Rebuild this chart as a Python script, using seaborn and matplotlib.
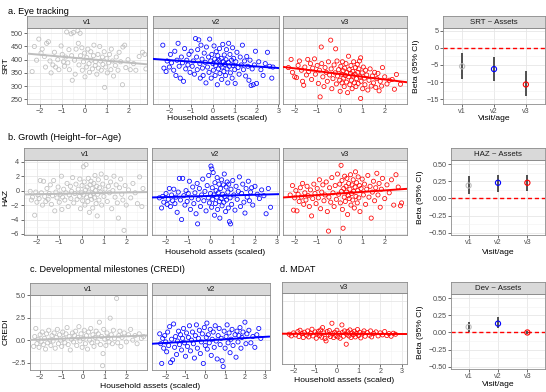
import pandas as pd
import matplotlib
matplotlib.use("Agg")
import matplotlib.pyplot as plt
import seaborn as sns
from matplotlib.ticker import MultipleLocator, AutoMinorLocator, FuncFormatter

# ---------------- data ----------------
visits = ["v1", "v2", "v3"]
visit_colors = {"v1": "#BEBEBE", "v2": "blue", "v3": "red"}

# a. Eye tracking : (household assets, SRT)
srt_v1 = [(-2.35, 355), (-2.25, 450), (-2.15, 398), (-2.05, 478), (-1.95, 425), (-1.9, 440), (-1.8, 412),
          (-1.75, 372), (-1.7, 462), (-1.62, 468), (-1.55, 395), (-1.5, 350), (-1.42, 380), (-1.35, 428),
          (-1.3, 372), (-1.2, 400), (-1.15, 362), (-1.05, 452), (-1.0, 420), (-0.95, 392), (-0.9, 375),
          (-0.85, 410), (-0.8, 505), (-0.75, 388), (-0.7, 438), (-0.68, 362), (-0.6, 498), (-0.58, 415),
          (-0.55, 322), (-0.5, 503), (-0.45, 398), (-0.42, 345), (-0.38, 440), (-0.3, 510), (-0.28, 462),
          (-0.25, 380), (-0.2, 500), (-0.18, 415), (-0.12, 445), (-0.1, 360), (-0.05, 392), (0.0, 425),
          (0.02, 335), (0.08, 372), (0.1, 408), (0.15, 440), (0.2, 385), (0.22, 352), (0.28, 430),
          (0.3, 398), (0.35, 365), (0.4, 415), (0.42, 455), (0.48, 378), (0.5, 392), (0.55, 345),
          (0.6, 420), (0.62, 368), (0.68, 450), (0.72, 395), (0.75, 360), (0.8, 410), (0.82, 382),
          (0.88, 430), (0.9, 295), (0.95, 372), (1.0, 405), (1.02, 350), (1.08, 388), (1.12, 420),
          (1.18, 362), (1.2, 440), (1.25, 395), (1.3, 338), (1.38, 378), (1.42, 410), (1.5, 360),
          (1.55, 428), (1.62, 392), (1.7, 305), (1.72, 448), (1.8, 455), (1.85, 370), (1.95, 400),
          (2.05, 362), (2.2, 385), (2.3, 360), (2.45, 412), (2.6, 428), (2.7, 420), (2.75, 365)]
srt_v2 = [(-2.3, 455), (-2.25, 368), (-2.15, 355), (-2.1, 395), (-2.0, 372), (-1.95, 420), (-1.9, 388),
          (-1.8, 360), (-1.75, 432), (-1.7, 340), (-1.65, 398), (-1.6, 462), (-1.55, 375), (-1.5, 330),
          (-1.45, 410), (-1.4, 388), (-1.35, 318), (-1.3, 442), (-1.25, 365), (-1.2, 398), (-1.15, 380),
          (-1.1, 420), (-1.05, 352), (-1.0, 432), (-0.95, 375), (-0.9, 395), (-0.85, 345), (-0.8, 480),
          (-0.75, 410), (-0.72, 362), (-0.7, 438), (-0.65, 475), (-0.6, 385), (-0.58, 330), (-0.55, 455),
          (-0.5, 402), (-0.48, 368), (-0.45, 340), (-0.4, 425), (-0.35, 390), (-0.32, 312), (-0.3, 448),
          (-0.25, 372), (-0.2, 410), (-0.18, 352), (-0.15, 478), (-0.1, 395), (-0.08, 330), (-0.05, 420),
          (0.0, 385), (0.02, 360), (0.05, 452), (0.08, 402), (0.1, 340), (0.12, 378), (0.15, 430),
          (0.18, 392), (0.2, 305), (0.22, 415), (0.25, 365), (0.28, 398), (0.3, 442), (0.32, 348),
          (0.35, 380), (0.38, 405), (0.4, 325), (0.42, 372), (0.45, 458), (0.48, 392), (0.5, 355),
          (0.52, 418), (0.55, 382), (0.58, 340), (0.6, 400), (0.62, 438), (0.65, 365), (0.68, 312),
          (0.7, 390), (0.72, 462), (0.75, 375), (0.78, 420), (0.8, 350), (0.85, 398), (0.88, 330),
          (0.9, 445), (0.92, 378), (0.95, 405), (1.0, 362), (1.02, 310), (1.05, 392), (1.1, 428),
          (1.15, 370), (1.2, 345), (1.25, 410), (1.3, 380), (1.35, 455), (1.4, 362), (1.45, 395),
          (1.5, 338), (1.55, 412), (1.6, 375), (1.65, 322), (1.7, 398), (1.75, 302), (1.8, 365),
          (1.85, 305), (1.9, 380), (1.95, 432), (2.0, 310), (2.1, 392), (2.2, 362), (2.3, 340),
          (2.4, 385), (2.5, 428), (2.6, 375), (2.7, 330), (2.75, 372)]
srt_v3 = [(-2.28, 370), (-2.16, 401), (-2.1, 352), (-2.0, 335), (-1.92, 332), (-1.85, 378), (-1.79, 395),
          (-1.7, 360), (-1.65, 318), (-1.6, 303), (-1.55, 372), (-1.48, 342), (-1.42, 401), (-1.38, 355),
          (-1.3, 385), (-1.25, 325), (-1.2, 368), (-1.12, 403), (-1.08, 345), (-1.0, 378), (-0.95, 310),
          (-0.9, 360), (-0.87, 259), (-0.82, 448), (-0.8, 385), (-0.75, 335), (-0.7, 298), (-0.65, 370),
          (-0.6, 352), (-0.55, 318), (-0.5, 392), (-0.45, 342), (-0.4, 474), (-0.38, 365), (-0.35, 290),
          (-0.3, 328), (-0.25, 380), (-0.2, 350), (-0.18, 441), (-0.15, 308), (-0.12, 395), (-0.1, 338),
          (-0.05, 362), (0.0, 322), (0.02, 280), (0.05, 375), (0.08, 345), (0.1, 312), (0.12, 392),
          (0.15, 358), (0.18, 330), (0.2, 298), (0.22, 368), (0.25, 340), (0.28, 385), (0.3, 315),
          (0.32, 352), (0.35, 275), (0.39, 413), (0.4, 335), (0.42, 362), (0.45, 305), (0.48, 348),
          (0.5, 378), (0.52, 322), (0.55, 290), (0.58, 355), (0.6, 338), (0.62, 392), (0.65, 312),
          (0.68, 345), (0.7, 370), (0.72, 298), (0.75, 328), (0.78, 382), (0.8, 352), (0.82, 310),
          (0.85, 365), (0.88, 395), (0.9, 335), (0.93, 407), (0.93, 253), (0.95, 318), (1.0, 350),
          (1.02, 290), (1.05, 372), (1.1, 330), (1.12, 305), (1.15, 360), (1.2, 342), (1.25, 285),
          (1.3, 322), (1.35, 365), (1.4, 300), (1.45, 338), (1.5, 312), (1.55, 352), (1.6, 295),
          (1.65, 328), (1.7, 348), (1.75, 282), (1.8, 318), (1.86, 300), (1.9, 370), (2.0, 335),
          (2.1, 308), (2.2, 322), (2.33, 325), (2.43, 288), (2.52, 344), (2.7, 307)]

# b. Growth : (household assets, HAZ)
haz_v1 = [(-2.3, -0.1), (-2.25, -1.3), (-2.2, -0.9), (-2.1, -3.4), (-2.05, -0.2), (-2.0, -1.6), (-1.95, -0.6),
          (-1.9, -1.1), (-1.85, 1.4), (-1.8, -0.3), (-1.75, -2.0), (-1.7, 1.3), (-1.65, -0.8), (-1.6, -1.5),
          (-1.55, 0.3), (-1.5, -1.2), (-1.45, -0.4), (-1.4, 0.8), (-1.35, -1.9), (-1.3, -0.7), (-1.25, 1.4),
          (-1.2, -2.8), (-1.15, -0.2), (-1.1, -1.0), (-1.05, 0.5), (-1.0, -1.6), (-0.95, -0.5), (-0.9, 2.0),
          (-0.88, -2.6), (-0.85, -0.9), (-0.8, 0.2), (-0.75, -1.3), (-0.7, -0.3), (-0.65, 1.0), (-0.6, -2.2),
          (-0.55, -0.6), (-0.5, 0.6), (-0.48, -1.1), (-0.45, -0.1), (-0.4, 1.8), (-0.35, -1.7), (-0.3, -0.4),
          (-0.25, 0.9), (-0.2, -1.2), (-0.15, 0.2), (-0.1, -0.8), (-0.08, 1.6), (-0.05, -2.5), (0.0, -0.3),
          (0.02, 0.7), (0.05, -1.4), (0.08, 3.3), (0.1, -0.6), (0.12, 1.2), (0.15, -2.0), (0.18, 0.1),
          (0.2, 3.6), (0.22, -0.9), (0.25, 0.5), (0.28, -1.5), (0.3, 1.7), (0.32, -0.2), (0.35, -3.0),
          (0.38, 0.8), (0.4, -0.7), (0.42, 1.3), (0.45, -1.2), (0.48, 0.3), (0.5, -2.4), (0.52, -0.4),
          (0.55, 1.0), (0.58, -1.0), (0.6, 2.1), (0.62, 0.0), (0.65, -1.8), (0.68, 0.6), (0.7, -3.5),
          (0.72, -0.5), (0.75, 1.5), (0.78, -1.3), (0.8, 0.4), (0.85, -0.2), (0.88, 2.3), (0.9, -2.0),
          (0.95, 0.9), (1.0, -0.8), (1.05, 0.2), (1.1, 1.8), (1.15, -1.5), (1.2, 0.6), (1.25, -0.3),
          (1.3, 1.2), (1.35, -2.5), (1.4, 0.0), (1.45, 2.0), (1.5, -0.9), (1.55, 0.8), (1.6, -1.7),
          (1.65, -3.8), (1.7, 0.4), (1.75, 1.6), (1.8, -0.5), (1.85, -1.3), (1.9, -5.5), (1.95, 0.7),
          (2.0, -2.0), (2.1, 0.1), (2.2, -1.0), (2.3, 1.0), (2.4, -0.3), (2.5, -1.8), (2.6, 1.9),
          (2.7, -2.2), (2.75, 0.3)]
haz_v2 = [(-2.3, -1.0), (-2.2, -2.4), (-2.15, -0.8), (-2.1, -1.6), (-2.0, -0.4), (-1.95, -1.9), (-1.9, -1.2),
          (-1.85, 0.3), (-1.8, -2.2), (-1.75, -0.6), (-1.7, -1.4), (-1.65, 0.2), (-1.6, -1.8), (-1.55, -0.9),
          (-1.5, -3.0), (-1.45, -0.2), (-1.4, 1.7), (-1.35, -1.3), (-1.3, -4.0), (-1.25, 1.7), (-1.2, -0.7),
          (-1.15, -2.0), (-1.1, 0.0), (-1.05, -1.5), (-1.0, -0.4), (-0.95, 1.3), (-0.9, -2.6), (-0.85, -1.0),
          (-0.8, 0.5), (-0.75, -1.8), (-0.7, -0.3), (-0.65, -3.2), (-0.6, 1.0), (-0.58, -4.6), (-0.55, -1.2),
          (-0.5, 0.3), (-0.45, -2.2), (-0.4, -0.6), (-0.35, 1.6), (-0.3, -1.4), (-0.25, -0.1), (-0.2, -2.8),
          (-0.15, 0.7), (-0.1, -1.0), (-0.08, 2.1), (-0.05, -1.7), (0.0, -0.4), (0.02, 3.4), (0.05, -2.3),
          (0.06, 3.0), (0.08, 0.4), (0.1, -1.2), (0.12, 2.5), (0.15, -0.6), (0.18, -3.4), (0.2, 1.1),
          (0.22, -1.8), (0.25, 0.0), (0.28, -0.9), (0.3, 1.8), (0.32, -2.6), (0.35, -0.3), (0.38, 0.9),
          (0.4, -1.5), (0.42, -3.8), (0.45, 0.3), (0.48, -1.1), (0.5, 1.5), (0.52, -2.1), (0.55, -0.5),
          (0.58, 0.8), (0.6, -1.6), (0.62, 2.3), (0.65, -0.8), (0.68, -2.9), (0.7, 0.5), (0.72, -1.3),
          (0.75, 1.2), (0.78, -0.2), (0.8, -2.4), (0.82, 0.9), (0.85, -4.3), (0.88, -1.0), (0.9, -4.6),
          (0.92, 0.2), (0.95, -1.9), (1.0, 1.4), (1.05, -0.6), (1.1, -2.7), (1.15, 0.6), (1.2, -1.2),
          (1.25, -0.1), (1.3, 1.9), (1.35, -2.2), (1.4, -0.4), (1.45, 0.9), (1.5, -1.6), (1.55, -3.1),
          (1.6, 0.3), (1.65, -0.9), (1.7, 1.3), (1.75, -1.4), (1.8, -0.2), (1.85, 0.4), (1.9, -2.0),
          (2.0, 0.6), (2.1, -0.5), (2.2, -1.1), (2.3, 0.1), (2.4, -0.7), (2.5, -3.2), (2.6, 0.3), (2.7, -2.3)]
haz_v3 = [(-2.2, -0.6), (-2.1, 0.7), (-2.05, -2.7), (-2.0, -1.0), (-1.95, 0.0), (-1.9, -2.8), (-1.85, -0.5),
          (-1.8, -1.5), (-1.75, 0.4), (-1.7, -0.9), (-1.65, 1.0), (-1.6, -1.9), (-1.55, -0.3), (-1.5, -1.3),
          (-1.45, 0.6), (-1.4, -0.7), (-1.35, -2.2), (-1.3, 0.1), (-1.25, -3.5), (-1.2, -1.1), (-1.15, 0.9),
          (-1.1, -0.4), (-1.05, -1.8), (-1.0, 0.3), (-0.95, -1.0), (-0.9, 1.5), (-0.85, -2.5), (-0.8, -0.2),
          (-0.75, 0.8), (-0.7, -1.4), (-0.65, -0.6), (-0.6, 1.2), (-0.55, -2.9), (-0.5, -5.6), (-0.48, -0.9),
          (-0.45, 0.4), (-0.4, -1.6), (-0.35, 1.8), (-0.3, -0.3), (-0.25, -2.2), (-0.2, 0.7), (-0.15, -1.2),
          (-0.1, 2.3), (-0.05, -0.5), (0.0, 0.9), (0.03, -1.7), (0.06, 3.5), (0.08, -0.1), (0.1, 1.4),
          (0.12, -2.6), (0.15, -5.2), (0.18, 0.3), (0.2, -0.9), (0.22, 2.0), (0.25, -1.5), (0.28, 0.6),
          (0.3, -0.2), (0.32, 1.7), (0.35, -3.3), (0.38, -0.7), (0.4, 1.0), (0.42, -1.1), (0.45, 0.2),
          (0.48, 2.2), (0.5, -2.0), (0.52, -0.4), (0.55, 0.8), (0.58, -1.3), (0.6, 1.5), (0.62, -0.1),
          (0.65, -2.4), (0.68, 0.5), (0.7, 2.6), (0.72, -0.8), (0.75, 1.1), (0.78, -1.7), (0.8, 0.0),
          (0.82, 1.9), (0.85, -1.0), (0.88, 0.7), (0.9, -2.9), (0.95, 0.3), (1.0, 1.6), (1.05, -0.6),
          (1.1, 0.9), (1.15, -1.9), (1.2, 0.2), (1.25, 2.1), (1.3, -0.9), (1.35, 0.6), (1.4, -3.8),
          (1.45, -0.2), (1.5, 1.3), (1.55, -1.4), (1.6, 0.4), (1.65, 2.4), (1.7, -0.6), (1.75, 1.0),
          (1.8, -2.3), (1.85, 0.2), (1.9, 1.7), (2.0, -1.1), (2.1, 0.8), (2.2, -0.3), (2.3, 1.5),
          (2.4, -2.0), (2.5, 2.2), (2.6, 0.5), (2.7, -2.1), (2.75, -1.7)]

# c. Developmental milestones : (household assets, CREDI)
credi_v1 = [(-2.3, -0.7), (-2.25, 0.4), (-2.2, 1.3), (-2.15, -0.4), (-2.1, 0.1), (-2.05, -0.8), (-2.0, 0.6),
            (-1.95, -0.2), (-1.9, 0.9), (-1.85, -0.5), (-1.8, 0.2), (-1.75, -1.0), (-1.7, 0.7), (-1.65, -0.3),
            (-1.6, 1.1), (-1.55, 0.0), (-1.5, -0.6), (-1.45, 0.5), (-1.4, -0.1), (-1.35, 0.8), (-1.3, -0.9),
            (-1.25, 0.3), (-1.2, 1.2), (-1.15, -0.4), (-1.1, 0.6), (-1.05, 0.0), (-1.0, -0.7), (-0.95, 0.9),
            (-0.9, 0.2), (-0.85, -0.3), (-0.8, 0.7), (-0.75, 1.4), (-0.7, -0.5), (-0.65, 0.4), (-0.6, -1.1),
            (-0.55, 0.1), (-0.5, 0.8), (-0.45, -0.2), (-0.4, 0.5), (-0.35, 1.0), (-0.3, -0.6), (-0.25, 0.3),
            (-0.2, 1.5), (-0.15, -0.1), (-0.1, 0.7), (-0.05, -0.8), (0.0, 0.2), (0.05, 1.1), (0.1, -0.4),
            (0.15, 0.5), (0.2, -1.0), (0.25, 0.9), (0.3, 0.0), (0.35, 1.3), (0.4, -0.3), (0.45, 0.6),
            (0.5, -0.7), (0.55, 0.3), (0.6, 1.0), (0.65, -0.2), (0.7, 0.7), (0.75, 2.0), (0.8, -0.5),
            (0.85, 0.4), (0.9, -2.85), (0.92, -1.5), (0.95, 1.2), (1.0, 0.1), (1.05, -0.6), (1.1, 0.8),
            (1.15, 0.3), (1.2, -0.2), (1.25, 2.45), (1.3, 0.6), (1.35, -0.4), (1.4, 1.1), (1.45, 0.2),
            (1.55, 4.65), (1.6, -0.3), (1.65, 0.5), (1.7, 1.0), (1.75, -0.7), (1.8, 0.3), (1.9, 0.8),
            (2.0, -0.2), (2.1, 0.6), (2.2, 1.2), (2.3, 0.0), (2.4, 0.5), (2.5, -0.4), (2.6, 0.7),
            (2.7, 0.2), (2.8, 0.4)]
credi_v2 = [(-2.3, 0.7), (-2.25, -0.4), (-2.2, -2.6), (-2.15, 0.2), (-2.1, -0.9), (-2.05, 0.5), (-2.0, -0.2),
            (-1.95, -1.3), (-1.9, 0.9), (-1.85, -0.6), (-1.8, 1.5), (-1.75, -2.5), (-1.7, 0.1), (-1.65, -2.2),
            (-1.6, 1.8), (-1.55, -0.8), (-1.5, 0.4), (-1.45, -1.6), (-1.4, -0.1), (-1.35, 1.0), (-1.3, -0.5),
            (-1.25, 0.6), (-1.2, -1.1), (-1.15, 0.2), (-1.1, 1.3), (-1.05, -0.3), (-1.0, -1.8), (-0.95, 0.8),
            (-0.9, -0.7), (-0.85, 0.3), (-0.8, 1.6), (-0.75, -1.2), (-0.7, 0.0), (-0.65, 0.9), (-0.6, -0.4),
            (-0.55, -2.0), (-0.5, 0.5), (-0.45, 1.7), (-0.4, -0.9), (-0.35, 0.2), (-0.3, 1.1), (-0.25, -1.5),
            (-0.2, -0.2), (-0.15, 0.7), (-0.1, -2.6), (-0.05, 1.4), (0.0, -0.6), (0.05, 0.3), (0.08, 1.9),
            (0.1, -1.0), (0.15, 0.6), (0.2, -0.3), (0.25, 1.2), (0.3, -1.7), (0.35, 0.1), (0.4, 0.9),
            (0.45, -0.8), (0.5, 1.6), (0.55, -0.1), (0.6, -2.1), (0.65, 0.5), (0.7, 1.3), (0.75, -0.5),
            (0.8, 0.2), (0.85, -2.3), (0.9, -2.95), (0.95, 1.0), (1.0, -0.9), (1.05, 0.4), (1.1, 1.7),
            (1.15, -0.3), (1.2, 0.8), (1.25, -1.4), (1.3, 0.1), (1.35, 1.2), (1.4, -0.6), (1.5, 0.6),
            (1.55, -1.9), (1.6, 1.0), (1.65, -0.2), (1.7, 0.5), (1.75, 1.4), (1.8, -0.9), (1.85, 0.3),
            (1.9, 0.9), (2.0, 2.0), (2.05, -0.4), (2.1, 0.7), (2.2, 1.1), (2.3, -0.3), (2.4, 0.4),
            (2.5, -0.8), (2.6, 0.6), (2.7, 1.3), (2.8, 0.2)]

# d. MDAT : (household assets, MDAT score), own hidden scale
mdat_v3 = [(-2.2, 0.0), (-2.1, -0.05), (-2.0, 0.04), (-1.9, -0.02), (-1.8, 0.08), (-1.75, -0.07), (-1.7, 0.12),
           (-1.6, 0.02), (-1.55, -0.1), (-1.5, 0.06), (-1.4, -0.03), (-1.35, 0.1), (-1.3, -0.08), (-1.2, 0.03),
           (-1.15, 0.15), (-1.1, -0.05), (-1.0, 0.07), (-0.95, -0.12), (-0.9, 0.01), (-0.85, 0.09), (-0.8, -0.04),
           (-0.75, 0.13), (-0.7, -0.09), (-0.66, 0.2), (-0.6, 0.04), (-0.55, -0.13), (-0.5, -0.2), (-0.45, 0.08),
           (-0.4, -0.02), (-0.35, 0.11), (-0.3, -0.07), (-0.23, 0.33), (-0.2, 0.02), (-0.15, -0.1), (-0.1, 0.06),
           (-0.05, -0.04), (0.0, 0.12), (0.05, -0.08), (0.1, 0.03), (0.15, -0.12), (0.23, 0.28), (0.25, 0.05),
           (0.3, -0.06), (0.35, 0.1), (0.43, -0.3), (0.45, 0.0), (0.5, 0.08), (0.55, -0.05), (0.6, 0.13),
           (0.65, -0.1), (0.7, 0.04), (0.75, -0.02), (0.8, 0.09), (0.85, -0.08), (0.9, 0.02), (0.95, 0.14),
           (1.0, -0.04), (1.05, 0.06), (1.1, -0.11), (1.2, 0.03), (1.25, 0.1), (1.3, -0.06), (1.4, 0.05),
           (1.5, -0.03), (1.55, 0.1), (1.6, -0.08), (1.7, 0.02), (1.8, 0.07), (1.9, -0.05), (2.0, 0.04),
           (2.1, -0.02), (2.2, 0.08), (2.3, -0.04), (2.4, 0.02), (2.5, -0.06), (2.6, 0.03), (2.7, 0.0)]

# coefficient panels (beta, lower, upper) per visit
srt_beta = [-5.4, -6.2, -10.7]
srt_lo = [-9.1, -9.7, -14.2]
srt_hi = [-1.6, -2.6, -6.9]
haz_beta = [0.19, 0.23, 0.23]
haz_lo = [0.07, 0.10, 0.11]
haz_hi = [0.33, 0.35, 0.35]
dev_beta = [0.08, 0.13, 0.00]
dev_lo = [0.00, 0.06, -0.015]
dev_hi = [0.16, 0.22, 0.015]

# ---------------- styling helpers ----------------
W, H = 546, 392
BORDER = "#8C8C8C"
STRIP = "#D9D9D9"
TICK_FS = 5.2
LAB_FS = 6.1


def minus(fmt):
    return FuncFormatter(lambda v, p: fmt.format(v).replace("-", "\u2212"))


def box(left, top, right, bottom):
    return [left / W, 1 - bottom / H, (right - left) / W, (bottom - top) / H]


def add_panel(fig, left, top, right, bottom, strip_top, label):
    ax = fig.add_axes(box(left, top, right, bottom))
    st = fig.add_axes(box(left, strip_top, right, top))
    st.set_facecolor(STRIP)
    st.set_xticks([])
    st.set_yticks([])
    st.grid(False)
    for s in st.spines.values() :
        s.set_color(BORDER)
        s.set_linewidth(0.6)
    st.text(0.5, 0.45, label, ha="center", va="center", fontsize=5.7, color="#1A1A1A",
            transform=st.transAxes)
    ax.set_facecolor("white")
    for s in ax.spines.values() :
        s.set_visible(True)
        s.set_color(BORDER)
        s.set_linewidth(0.6)
    ax.set_axisbelow(True)
    ax.grid(True, which="major", color="#E6E6E6", lw=0.6)
    ax.grid(True, which="minor", color="#F1F1F1", lw=0.4)
    ax.tick_params(which="major", bottom=True, left=True, length=2, width=0.5, color="#333333",
                   labelsize=TICK_FS, labelcolor="#4D4D4D", pad=1)
    ax.tick_params(which="minor", length=0)
    return ax


def scatter_panel(ax, pairs, color, xlim, ylim, ystep, yfmt, show_y=True):
    df = pd.DataFrame(pairs, columns=["assets", "score"])
    ax.set_xlim(xlim)
    ax.set_ylim(ylim)
    sns.regplot(data=df, x="assets", y="score", ax=ax, ci=None, truncate=False, color=color,
                scatter_kws=dict(s=9, facecolors="none", linewidths=0.55, alpha=1, zorder=2),
                line_kws=dict(lw=1.4, zorder=3))
    ax.set_xlim(xlim)
    ax.set_ylim(ylim)
    ax.xaxis.set_major_locator(MultipleLocator(1))
    ax.xaxis.set_minor_locator(AutoMinorLocator(2))
    ax.xaxis.set_major_formatter(minus("{:.0f}"))
    ax.yaxis.set_major_locator(MultipleLocator(ystep))
    ax.yaxis.set_minor_locator(AutoMinorLocator(2))
    ax.yaxis.set_major_formatter(minus(yfmt))
    if not show_y :
        ax.tick_params(axis="y", labelleft=False, length=0)
    ax.set_xlabel("")
    ax.set_ylabel("")


def coef_panel(ax, beta, lo, hi, ylim, ystep, yfmt):
    df = pd.DataFrame({"visit": visits, "beta": beta, "lo": lo, "hi": hi})
    ax.set_xlim(-0.6, 2.6)
    ax.set_ylim(ylim)
    ax.axhline(0, color="red", ls=(0, (3, 2)), lw=1.0, zorder=1)
    ax.vlines(df.index, df["lo"], df["hi"], color="#333333", lw=1.2, zorder=2)
    for i, row in df.iterrows() :
        ax.scatter(i, row["beta"], s=14, facecolors="none", edgecolors=visit_colors[row["visit"]],
                   linewidths=0.8, zorder=3)
    ax.set_xticks(range(3))
    ax.set_xticklabels(visits)
    ax.yaxis.set_major_locator(MultipleLocator(ystep))
    ax.yaxis.set_minor_locator(AutoMinorLocator(2))
    ax.yaxis.set_major_formatter(minus(yfmt))
    ax.set_xlabel("")
    ax.set_ylabel("")


def ftext(fig, x, y, s, **kw):
    fig.text(x / W, 1 - y / H, s, **kw)


# ---------------- figure ----------------
sns.set_theme(style="whitegrid")
plt.rcParams["font.family"] = ["Liberation Sans", "DejaVu Sans"]
plt.rcParams["axes.unicode_minus"] = True

fig = plt.figure(figsize=(W / 100, H / 100), dpi=100)

# row a
ax = add_panel(fig, 27, 28, 147, 104, 16, "v1")
scatter_panel(ax, srt_v1, visit_colors["v1"], (-2.58, 2.8), (232, 520), 50, "{:.0f}")
ax = add_panel(fig, 153, 28, 279, 104, 16, "v2")
scatter_panel(ax, srt_v2, visit_colors["v2"], (-2.75, 3.03), (232, 520), 50, "{:.0f}", show_y=False)
ax = add_panel(fig, 283, 28, 407, 104, 16, "v3")
scatter_panel(ax, srt_v3, visit_colors["v3"], (-2.52, 2.99), (232, 520), 50, "{:.0f}", show_y=False)
ax = add_panel(fig, 443, 28, 545, 104, 16, "SRT ~ Assets")
coef_panel(ax, srt_beta, srt_lo, srt_hi, (-16.4, 5.8), 5, "{:.0f}")

# row b
ax = add_panel(fig, 23.5, 160, 147, 235, 148, "v1")
scatter_panel(ax, haz_v1, visit_colors["v1"], (-2.6, 2.93), (-6.14, 4.24), 2, "{:.0f}")
ax = add_panel(fig, 152, 160, 279, 235, 148, "v2")
scatter_panel(ax, haz_v2, visit_colors["v2"], (-2.63, 3.08), (-6.14, 4.24), 2, "{:.0f}", show_y=False)
ax = add_panel(fig, 283, 160, 407, 235, 148, "v3")
scatter_panel(ax, haz_v3, visit_colors["v3"], (-2.52, 2.99), (-6.14, 4.24), 2, "{:.0f}", show_y=False)
ax = add_panel(fig, 451, 160, 545, 235, 148, "HAZ ~ Assets")
coef_panel(ax, haz_beta, haz_lo, haz_hi, (-0.534, 0.563), 0.25, "{:.2f}")

# row c / d
ax = add_panel(fig, 30, 295, 147, 370, 283, "v1")
scatter_panel(ax, credi_v1, visit_colors["v1"], (-2.47, 2.96), (-3.33, 5.03), 2.5, "{:.1f}")
ax = add_panel(fig, 152, 295, 269.5, 370, 283, "v2")
scatter_panel(ax, credi_v2, visit_colors["v2"], (-2.69, 3.24), (-3.33, 5.03), 2.5, "{:.1f}", show_y=False)
ax = add_panel(fig, 282, 293, 407, 363.5, 281.5, "v3")
scatter_panel(ax, mdat_v3, visit_colors["v3"], (-2.53, 3.23), (-0.88, 1.24), 1, "{:.0f}", show_y=False)
ax = add_panel(fig, 451, 294, 545, 369, 282, "Dev ~ Assets")
coef_panel(ax, dev_beta, dev_lo, dev_hi, (-0.534, 0.563), 0.25, "{:.2f}")

# titles and axis labels
title_kw = dict(fontsize=6.6, color="black", ha="left", va="center")
ftext(fig, 8, 11, "a. Eye tracking", **title_kw)
ftext(fig, 8, 138, "b. Growth (Height\u2212for\u2212Age)", **title_kw)
ftext(fig, 30, 270, "c. Developmental milestones (CREDI)", **title_kw)
ftext(fig, 280, 270, "d. MDAT", **title_kw)

xl_kw = dict(fontsize=LAB_FS, color="black", ha="center", va="center")
ftext(fig, 217, 118, "Household assets (scaled)", **xl_kw)
ftext(fig, 215, 253, "Household assets (scaled)", **xl_kw)
ftext(fig, 150, 386.5, "Household assets (scaled)", **xl_kw)
ftext(fig, 344, 381, "Household assets (scaled)", **xl_kw)
ftext(fig, 494, 118, "Visit/age", **xl_kw)
ftext(fig, 498, 253, "Visit/age", **xl_kw)
ftext(fig, 498, 385, "Visit/age", **xl_kw)

yl_kw = dict(fontsize=LAB_FS, color="black", ha="center", va="center", rotation=90)
ftext(fig, 6, 66, "SRT", **yl_kw)
ftext(fig, 6, 197, "HAZ", **yl_kw)
ftext(fig, 6, 332, "CREDI", **yl_kw)
ftext(fig, 416, 66, "Beta (95% CI)", **yl_kw)
ftext(fig, 420, 197, "Beta (95% CI)", **yl_kw)
ftext(fig, 420, 332, "Beta (95% CI)", **yl_kw)

fig.savefig("out.png", dpi=100)
